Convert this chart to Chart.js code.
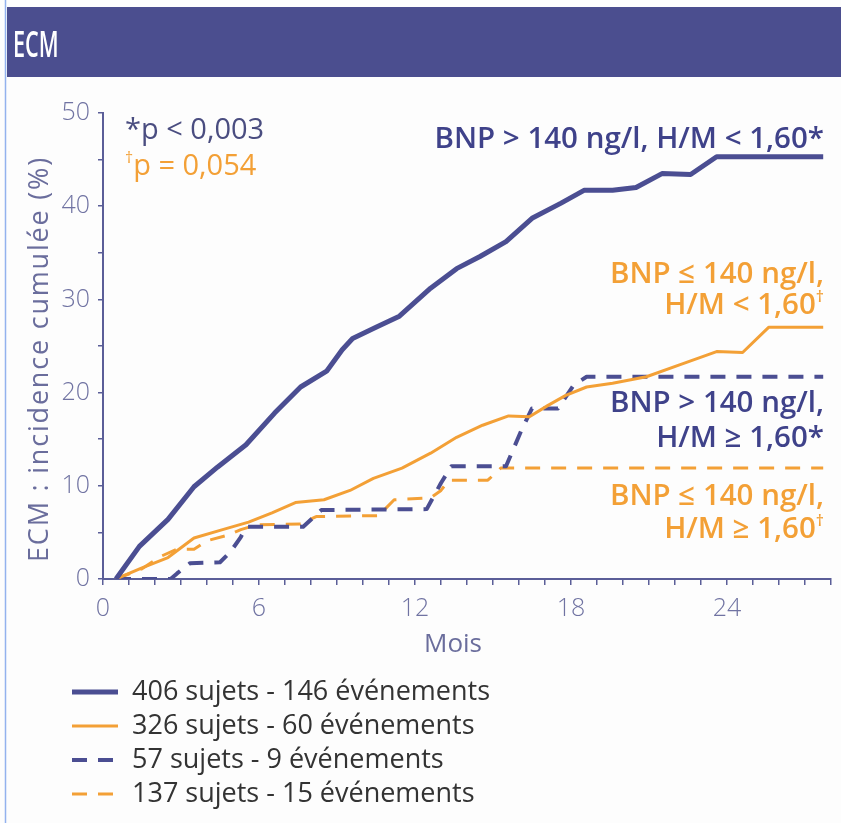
<!DOCTYPE html>
<html lang="fr">
<head>
<meta charset="utf-8">
<title>ECM : incidence cumulée</title>
<script src="https://cdn.jsdelivr.net/npm/chart.js@4.4.1/dist/chart.umd.min.js"></script>
<style>
  html, body { margin: 0; padding: 0; background: #fdfdfd; }
  #chart { display: block; }
</style>
</head>
<body>
<canvas id="chart" width="841" height="823"></canvas>
<script>
// Incidence cumulée des ECM (%) en fonction du temps (mois), 4 groupes BNP / H/M

// BNP > 140 ng/l, H/M < 1,60
const monthsHighBnpLowHm = [0.5, 1.4, 2.5, 3.5, 4.4, 5.5, 6.6, 7.6, 8.6, 9.2, 9.6, 10.5, 11.4, 12.6, 13.6, 14.5, 15.5, 16.5, 17.6, 18.5, 19.6, 20.5, 21.5, 22.6, 23.6, 27.7];
const ecmHighBnpLowHm    = [0, 3.5, 6.4, 9.9, 12.0, 14.4, 17.8, 20.6, 22.3, 24.6, 25.8, 27.0, 28.2, 31.2, 33.3, 34.6, 36.2, 38.7, 40.3, 41.7, 41.7, 42.0, 43.5, 43.4, 45.3, 45.3];

// BNP <= 140 ng/l, H/M < 1,60
const monthsLowBnpLowHm = [0.5, 1.5, 2.5, 3.5, 4.6, 5.6, 6.5, 7.4, 8.5, 9.5, 10.4, 11.5, 12.6, 13.6, 14.6, 15.6, 16.4, 17.1, 17.8, 18.6, 19.6, 20.9, 22.2, 23.6, 24.6, 25.6, 27.7];
const ecmLowBnpLowHm    = [0, 1.2, 2.3, 4.4, 5.3, 6.1, 7.1, 8.2, 8.5, 9.5, 10.8, 11.9, 13.5, 15.2, 16.5, 17.5, 17.4, 18.6, 19.7, 20.6, 21.0, 21.7, 23.0, 24.4, 24.3, 27.0, 27.0];

// BNP > 140 ng/l, H/M >= 1,60
const monthsHighBnpHighHm = [0.5, 2.6, 2.85, 3.35, 4.5, 4.9, 5.3, 5.5, 7.7, 8.2, 8.4, 12.45, 13.0, 13.4, 15.5, 16.1, 16.5, 17.5, 18.1, 18.6, 27.7];
const ecmHighBnpHighHm    = [0, 0, 0.6, 1.7, 1.8, 2.9, 4.5, 5.6, 5.6, 6.9, 7.4, 7.5, 10.3, 12.1, 12.1, 16.0, 18.3, 18.3, 20.8, 21.7, 21.7];

// BNP <= 140 ng/l, H/M >= 1,60
const monthsLowBnpHighHm = [0.5, 1.5, 2.2, 2.85, 3.5, 4.0, 4.8, 5.3, 5.9, 7.6, 8.2, 10.6, 11.2, 12.6, 13.0, 13.3, 14.8, 15.3, 27.7];
const ecmLowBnpHighHm    = [0, 1.1, 2.4, 3.2, 3.2, 4.1, 4.7, 5.3, 5.8, 5.9, 6.7, 6.8, 8.5, 8.7, 9.5, 10.6, 10.6, 11.9, 11.9];

const legendLabels = [
  '406 sujets - 146 événements',
  '326 sujets - 60 événements',
  '57 sujets - 9 événements',
  '137 sujets - 15 événements'
];

const xTitle = 'Mois';
const yTitle = 'ECM : incidence cumulée (%)';

const xTickEvery = 6;   // mois
const yTickEvery = 10;  // %

const NAVY = '#4b4e92';
const NAVY_TEXT = '#3f428a';
const ORANGE = '#f3a036';
const AXIS = '#5b5e98';
const TICK_TEXT = '#7073a2';
const FONT = '"Open Sans", "Noto Sans", sans-serif';

const toPoints = (xs, ys) => xs.map((x, i) => ({ x: x, y: ys[i] }));

// texte avec exposant (dagger) éventuel, aligné à droite ou à gauche
function drawRichText(ctx, parts, x, y, align, size, weight, color) {
  const supSize = Math.round(size * 0.55);
  const widths = parts.map(p => {
    ctx.font = weight + ' ' + (p.sup ? supSize : size) + 'px ' + FONT;
    return ctx.measureText(p.t).width;
  });
  const total = widths.reduce((a, b) => a + b, 0);
  let cx = align === 'right' ? x - total : x;
  ctx.fillStyle = color;
  ctx.textAlign = 'left';
  ctx.textBaseline = 'alphabetic';
  parts.forEach((p, i) => {
    ctx.font = weight + ' ' + (p.sup ? supSize : size) + 'px ' + FONT;
    ctx.fillText(p.t, cx, p.sup ? y - size * 0.42 : y);
    cx += widths[i];
  });
}

const decorations = {
  id: 'decorations',
  beforeDraw(chart) {
    const ctx = chart.ctx;
    ctx.save();
    ctx.fillStyle = '#fdfdfd';
    ctx.fillRect(0, 0, chart.width, chart.height);
    // bandeau titre
    ctx.fillStyle = '#4b4e8f';
    ctx.fillRect(7, 7, chart.width - 7, 70);
    ctx.fillStyle = '#ffffff';
    ctx.font = '600 36px ' + FONT;
    ctx.textBaseline = 'alphabetic';
    ctx.translate(13, 57);
    ctx.scale(0.6, 1);
    ctx.fillText('ECM', 0, 0);
    ctx.restore();
    // filet bleu à gauche
    ctx.save();
    ctx.strokeStyle = '#93b2ee';
    ctx.lineWidth = 1.5;
    ctx.beginPath();
    ctx.moveTo(5.5, 0);
    ctx.lineTo(5.5, chart.height);
    ctx.stroke();
    ctx.restore();
  },
  afterDraw(chart) {
    const ctx = chart.ctx;
    const area = chart.chartArea;
    ctx.save();

    // titres des axes
    ctx.fillStyle = '#6a6d9c';
    ctx.font = '400 26px ' + FONT;
    ctx.textAlign = 'center';
    ctx.textBaseline = 'middle';
    ctx.fillText(xTitle, area.left + 350, area.bottom + 66);
    ctx.save();
    ctx.translate(40, area.top + 246);
    ctx.rotate(-Math.PI / 2);
    ctx.font = '400 27px ' + FONT;
    ctx.letterSpacing = '1.8px';
    ctx.fillText(yTitle, 0, 0);
    ctx.restore();

    // p-values
    drawRichText(ctx, [{ t: '*p < 0,003' }], 125, 139, 'left', 29, 400, '#4a4d80');
    drawRichText(ctx, [{ t: '†', sup: true }, { t: 'p = 0,054' }], 125, 175, 'left', 29, 400, ORANGE);

    // étiquettes des courbes
    const rx = 824;
    drawRichText(ctx, [{ t: 'BNP > 140 ng/l, H/M < 1,60*' }], rx, 148, 'right', 29.5, 600, NAVY_TEXT);
    drawRichText(ctx, [{ t: 'BNP ≤ 140 ng/l,' }], rx, 283, 'right', 29.5, 600, ORANGE);
    drawRichText(ctx, [{ t: 'H/M < 1,60' }, { t: '†', sup: true }], rx, 314, 'right', 29.5, 600, ORANGE);
    drawRichText(ctx, [{ t: 'BNP > 140 ng/l,' }], rx, 412, 'right', 29.5, 600, NAVY_TEXT);
    drawRichText(ctx, [{ t: 'H/M ≥ 1,60*' }], rx, 447, 'right', 29.5, 600, NAVY_TEXT);
    drawRichText(ctx, [{ t: 'BNP ≤ 140 ng/l,' }], rx, 505, 'right', 29.5, 600, ORANGE);
    drawRichText(ctx, [{ t: 'H/M ≥ 1,60' }, { t: '†', sup: true }], rx, 538, 'right', 29.5, 600, ORANGE);

    // légende
    chart.data.datasets.forEach((ds, i) => {
      const y = 692 + i * 34;
      ctx.save();
      ctx.strokeStyle = ds.borderColor;
      ctx.lineWidth = ds.borderWidth;
      ctx.setLineDash(ds.borderDash || []);
      ctx.beginPath();
      ctx.moveTo(72, y);
      ctx.lineTo(118, y);
      ctx.stroke();
      ctx.restore();
      ctx.fillStyle = '#333333';
      ctx.font = '400 27px ' + FONT;
      ctx.textBaseline = 'middle';
      ctx.textAlign = 'left';
      ctx.fillText(legendLabels[i], 132, y);
    });
    ctx.restore();
  }
};

new Chart(document.getElementById('chart'), {
  type: 'line',
  data: {
    datasets: [
      {
        label: legendLabels[0],
        data: toPoints(monthsHighBnpLowHm, ecmHighBnpLowHm),
        borderColor: NAVY,
        borderWidth: 5
      },
      {
        label: legendLabels[1],
        data: toPoints(monthsLowBnpLowHm, ecmLowBnpLowHm),
        borderColor: ORANGE,
        borderWidth: 3
      },
      {
        label: legendLabels[2],
        data: toPoints(monthsHighBnpHighHm, ecmHighBnpHighHm),
        borderColor: NAVY,
        borderWidth: 4,
        borderDash: [15, 11]
      },
      {
        label: legendLabels[3],
        data: toPoints(monthsLowBnpHighHm, ecmLowBnpHighHm),
        borderColor: ORANGE,
        borderWidth: 3,
        borderDash: [15, 11]
      }
    ]
  },
  options: {
    responsive: false,
    animation: false,
    layout: { padding: { left: 0, top: 113, right: 10, bottom: 134 } },
    elements: {
      point: { radius: 0, hoverRadius: 0 },
      line: { tension: 0, fill: false, borderJoinStyle: 'round' }
    },
    plugins: {
      legend: { display: false },
      tooltip: { enabled: false }
    },
    scales: {
      x: {
        type: 'linear',
        min: 0,
        max: 28,
        ticks: {
          stepSize: 1,
          autoSkip: false,
          maxRotation: 0,
          padding: 9,
          color: TICK_TEXT,
          font: { family: FONT, size: 25, weight: 300 },
          callback: v => (v % xTickEvery === 0 ? v : '')
        },
        grid: { drawOnChartArea: false, drawTicks: true, tickLength: 6, color: AXIS, lineWidth: 1.5 },
        border: { color: AXIS, width: 2 },
        afterFit: s => { s.height = 110; }
      },
      y: {
        min: 0,
        max: 50,
        ticks: {
          stepSize: 5,
          padding: 8,
          color: TICK_TEXT,
          font: { family: FONT, size: 25, weight: 300 },
          callback: v => (v % yTickEvery === 0 ? v : '')
        },
        grid: { drawOnChartArea: false, drawTicks: true, tickLength: 5, color: AXIS, lineWidth: 1.5 },
        border: { color: AXIS, width: 2 },
        afterFit: s => { s.width = 103; }
      }
    }
  },
  plugins: [decorations]
});
</script>
</body>
</html>
